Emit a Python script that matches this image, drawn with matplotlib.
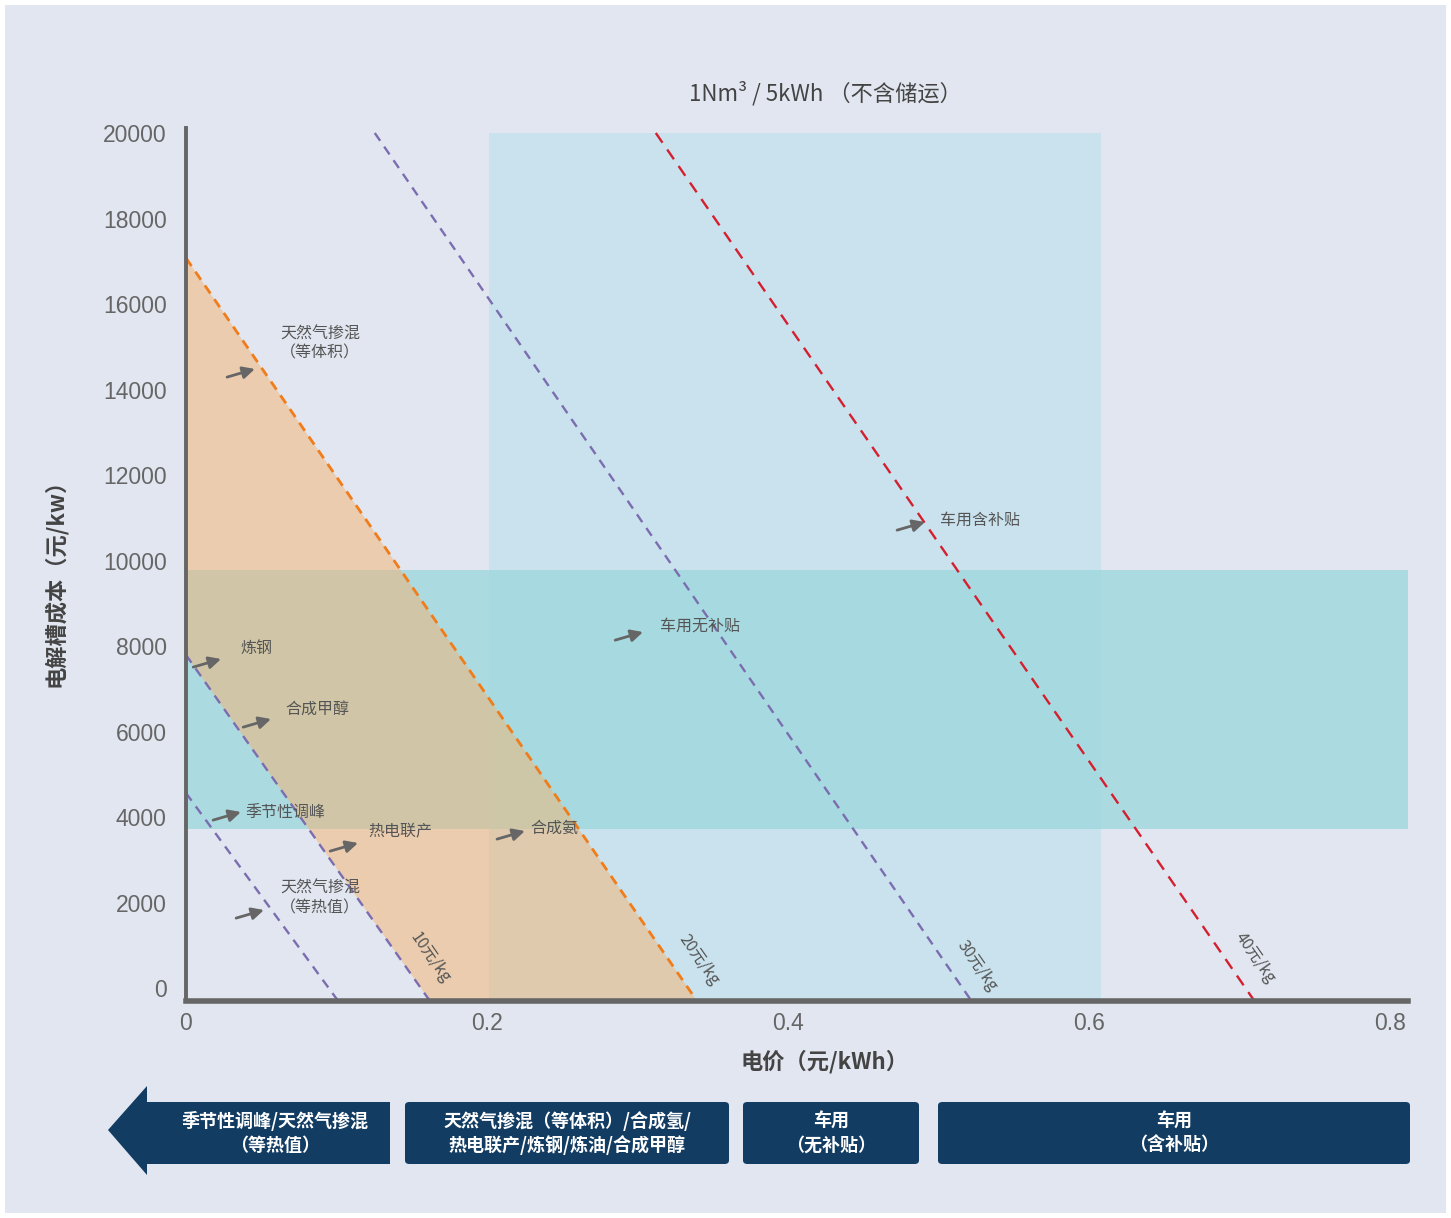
import numpy as np
import matplotlib.pyplot as plt
from matplotlib.patches import Rectangle, FancyBboxPatch, Polygon

plt.rcParams['font.family'] = ['Noto Sans CJK SC', 'DejaVu Sans']

# hydrogen cost iso-lines: electrolyser capex vs electricity price
h2_prices = [5, 10, 20, 30, 40]                              # 元/kg
price_at_zero_capex = [0.0948, 0.156, 0.3336, 0.516, 0.704]  # 元/kWh, where capex = 0
capex_at_zero_price = [4560, 7790, 17076, 26424, 35934]      # 元/kw, where price = 0
line_colors = ['#7b6db0', '#7b6db0', '#f07c1a', '#7b6db0', '#d41f2f']
line_labels = ['', '10元/kg', '20元/kg', '30元/kg', '40元/kg']
line_label_y = [None, 700, 650, 515, 700]

# shaded ranges
vehicle_price_range = [0.2013, 0.608]   # 元/kWh
capex_range = [3720, 9780]              # 元/kw

# application annotations: arrow head position and text
apps = ['天然气掺混\n（等体积）', '炼钢', '合成甲醇', '季节性调峰', '热电联产',
        '合成氨', '天然气掺混\n（等热值）', '车用无补贴', '车用含补贴']
app_head_x = [0.0458, 0.0233, 0.0565, 0.0365, 0.1143, 0.2252, 0.0518, 0.3037, 0.491]
app_head_y = [14480, 7696, 6292, 4117, 3392, 3673, 1825, 8327, 10900]
app_text_x = [0.089, 0.0359, 0.0658, 0.0392, 0.1209, 0.2286, 0.089, 0.315, 0.501]
app_text_y = [15076, 7953, 6526, 4117, 3649, 3743, 2094, 8468, 10947]

# bottom category boxes
box_texts = ['季节性调峰/天然气掺混\n（等热值）',
             '天然气掺混（等体积）/合成氢/\n热电联产/炼钢/炼油/合成甲醇',
             '车用\n（无补贴）', '车用\n（含补贴）']

W, H = 1451, 1218
fig = plt.figure(figsize=(W / 100, H / 100), dpi=100)
fig.patch.set_facecolor('white')


def fx(px):
    return px / W


def fy(py):
    return 1 - py / H


fig.patches.append(Rectangle((fx(5), fy(1213)), fx(1441), 1208 / H,
                             transform=fig.transFigure, facecolor='#e1e6f0',
                             edgecolor='none', zorder=-10))

ax = fig.add_axes([fx(186), fy(1001), fx(1408 - 186), (1001 - 128) / H])
ax.set_zorder(1)
ax.set_facecolor('none')
ymin, ymax = -304, 20117
xmin, xmax = 0, 0.812
ax.set_xlim(xmin, xmax)
ax.set_ylim(ymin, ymax)

# vehicle band (vertical)
ax.fill_between(vehicle_price_range, ymin, 20000, color='#c9e2ed', lw=0, zorder=1)
# capex band (horizontal)
ax.fill_between([xmin, xmax], capex_range[0], capex_range[1],
                color='#9ed8dd', alpha=0.8, lw=0, zorder=2)


def line_x(i, y):
    return price_at_zero_capex[i] * (1 - np.asarray(y) / capex_at_zero_price[i])


def line_y(i, x):
    return capex_at_zero_price[i] * (1 - np.asarray(x) / price_at_zero_capex[i])


# orange region between the 10 and 20 元/kg lines
i10, i20 = h2_prices.index(10), h2_prices.index(20)
poly = [(0, line_y(i20, 0)), (0, line_y(i10, 0)),
        (line_x(i10, ymin), ymin), (line_x(i20, ymin), ymin)]
ax.add_patch(Polygon(poly, closed=True, facecolor='#f5b470', alpha=0.5,
                     edgecolor='none', zorder=3))

# iso-cost lines
for i, p in enumerate(h2_prices):
    y_top = min(capex_at_zero_price[i], 20000)
    ys = np.array([y_top, ymin])
    xs = line_x(i, ys)
    if p == 40:
        ls, lw = (0, (5, 3.5)), 1.7
    elif p == 20:
        ls, lw = (0, (3.5, 2.5)), 2.0
    else:
        ls, lw = (0, (4, 3)), 1.7
    ax.plot(xs, ys, color=line_colors[i], ls=ls, lw=lw, zorder=4, clip_on=False)
    if line_labels[i]:
        yl = line_label_y[i]
        ax.text(line_x(i, yl) + 0.02, yl, line_labels[i], rotation=-55,
                rotation_mode='anchor', ha='center', va='center',
                fontsize=11.5, color='#555555', zorder=6)

# annotations
for t, hx, hy, tx, ty in zip(apps, app_head_x, app_head_y, app_text_x, app_text_y):
    dx, dy = 0.0185, 190
    ax.annotate('', xy=(hx, hy), xytext=(hx - dx, hy - dy),
                arrowprops=dict(arrowstyle='-|>', color='#666666', lw=2,
                                mutation_scale=18, shrinkA=0, shrinkB=0),
                zorder=6)
    if '\n' in t:
        ax.text(tx, ty, t, ha='center', va='center', fontsize=11.5,
                color='#555555', linespacing=1.2, zorder=6)
    else:
        ax.text(tx, ty, t, ha='left', va='center', fontsize=11.5,
                color='#555555', zorder=6)

ax.set_xticks([0, 0.2, 0.4, 0.6, 0.8])
ax.set_xticklabels(['0', '0.2', '0.4', '0.6', '0.8'])
ax.set_yticks(range(0, 20001, 2000))
ax.tick_params(length=0, labelsize=16.5, colors='#666666')
ax.tick_params(axis='x', pad=8)
ax.tick_params(axis='y', pad=14)
for lab in ax.get_xticklabels() + ax.get_yticklabels():
    lab.set_family(['Liberation Sans', 'DejaVu Sans'])
for s in ['top', 'right']:
    ax.spines[s].set_visible(False)
ax.spines['left'].set_color('#666666')
ax.spines['left'].set_linewidth(2.8)
ax.spines['bottom'].set_color('#666666')
ax.spines['bottom'].set_linewidth(4)
for s in ax.spines.values():
    s.set_zorder(7)

fig.text(fx(825), fy(93), '1Nm³ / 5kWh （不含储运）', ha='center', va='center',
         fontsize=16, color='#444444')
fig.text(fx(825), fy(1062), '电价（元/kWh）', ha='center', va='center',
         fontsize=16, color='#444444', fontweight='bold')
fig.text(fx(55), fy(577), '电解槽成本（元/kw）', ha='center', va='center',
         rotation=90, fontsize=16, color='#444444', fontweight='bold')

# bottom category boxes
navy = '#123c62'
arrow_pts = [(108, 1130), (147, 1086), (147, 1102), (390, 1102),
             (390, 1164), (147, 1164), (147, 1175)]
fig.patches.append(Polygon([(fx(a), fy(b)) for a, b in arrow_pts], closed=True,
                           transform=fig.transFigure, facecolor=navy,
                           edgecolor='none', zorder=2))
boxes = [(405, 729), (743, 919), (938, 1410)]
for x0, x1 in boxes:
    fig.patches.append(FancyBboxPatch((fx(x0), fy(1164)), fx(x1 - x0), 62 / H,
                                      boxstyle='round,pad=0,rounding_size=0.003',
                                      transform=fig.transFigure, facecolor=navy,
                                      edgecolor='none', zorder=2))
box_centers = [275, 567, 831, 1174]
for t, cx in zip(box_texts, box_centers):
    fig.text(fx(cx), fy(1133), t, ha='center', va='center', fontsize=13,
             color='white', fontweight='bold', linespacing=1.3, zorder=3)

fig.savefig('out.png', dpi=100)
